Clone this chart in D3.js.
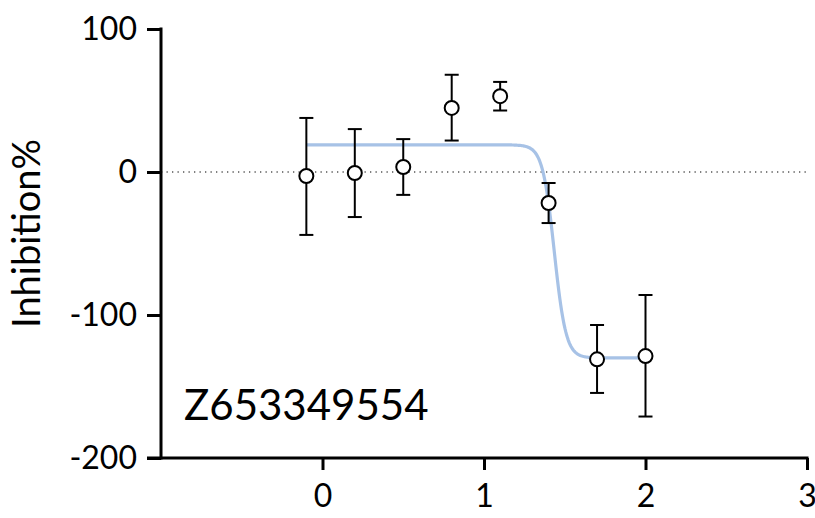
<!DOCTYPE html>
<html>
<head>
<meta charset="utf-8">
<script src="https://cdn.jsdelivr.net/npm/d3@7"></script>
<style>
  body { margin: 0; background: #fff; }
  text { font-family: Lato, "Noto Sans", sans-serif; fill: #000; }
</style>
</head>
<body>
<div id="chart"></div>
<script>
// log concentration, mean inhibition and error bar ends
const logConc = [-0.1, 0.2, 0.5, 0.8, 1.1, 1.4, 1.7, 2.0];
const inhibition = [-2.8, -0.7, 3.5, 44.8, 53, -21.7, -131, -128.7];
const errUpper = [37.8, 30, 23, 68, 63, -7.7, -107, -86];
const errLower = [-44, -31.5, -16, 22, 43, -35.7, -154.5, -171];

const xTicks = [0, 1, 2, 3];
const yTicks = [-200, -100, 0, 100];

// fitted 4-parameter curve
const fitTop = 19;
const fitBottom = -130;
const fitLogIC50 = 1.435;
const fitHill = 12;

const compound = 'Z653349554';

const width = 815, height = 518;
const svg = d3.select('#chart').append('svg')
    .attr('width', width)
    .attr('height', height);

const x = d3.scaleLinear().domain([-1, 3]).range([161, 807]);
const y = d3.scaleLinear().domain([-200, 100]).range([458, 29]);

// zero reference line
svg.append('line')
    .attr('x1', x(-1)).attr('x2', x(3))
    .attr('y1', y(0)).attr('y2', y(0))
    .attr('stroke', '#555')
    .attr('stroke-width', 1.3)
    .attr('stroke-dasharray', '1.3,4.2');

// fitted curve
function fitted(v){
    return fitBottom + (fitTop - fitBottom) / (1 + Math.pow(10, (v - fitLogIC50) * fitHill));
}
const curveX = d3.range(0, 401).map(i => -0.1 + i * 2.1 / 400);
svg.append('path')
    .datum(curveX)
    .attr('fill', 'none')
    .attr('stroke', '#a7c2e6')
    .attr('stroke-width', 3.2)
    .attr('d', d3.line().x(d => x(d)).y(d => y(fitted(d))));

// error bars
const pts = logConc.map((c, i) => ({c: c, v: inhibition[i], hi: errUpper[i], lo: errLower[i]}));
const bars = svg.append('g').attr('stroke', '#000').attr('stroke-width', 2);
pts.forEach(function(d){
    bars.append('line').attr('x1', x(d.c)).attr('x2', x(d.c)).attr('y1', y(d.hi)).attr('y2', y(d.lo));
    bars.append('line').attr('x1', x(d.c) - 7).attr('x2', x(d.c) + 7).attr('y1', y(d.hi)).attr('y2', y(d.hi));
    bars.append('line').attr('x1', x(d.c) - 7).attr('x2', x(d.c) + 7).attr('y1', y(d.lo)).attr('y2', y(d.lo));
});

svg.append('g').selectAll('circle')
    .data(pts)
    .enter().append('circle')
    .attr('cx', d => x(d.c))
    .attr('cy', d => y(d.v))
    .attr('r', 7)
    .attr('fill', '#fff')
    .attr('stroke', '#000')
    .attr('stroke-width', 2);

// axes
const yAxis = svg.append('g')
    .attr('transform', `translate(${x(-1)},0)`)
    .call(d3.axisLeft(y).tickValues(yTicks).tickSize(14).tickPadding(10).tickFormat(d => String(d)));
const xAxis = svg.append('g')
    .attr('transform', `translate(0,${y(-200)})`)
    .call(d3.axisBottom(x).tickValues(xTicks).tickSize(12).tickPadding(14).tickFormat(d => String(d)));

[yAxis, xAxis].forEach(function(a){
    a.select('.domain').remove();
    a.selectAll('.tick line').attr('stroke-width', 3);
    a.selectAll('.tick text').attr('font-size', 32).attr('font-family', 'Lato, sans-serif');
});
svg.append('line')
    .attr('x1', x(-1)).attr('x2', x(-1)).attr('y1', y(100) - 1.5).attr('y2', y(-200) + 1.5)
    .attr('stroke', '#000').attr('stroke-width', 3);
svg.append('line')
    .attr('x1', x(-1) - 14).attr('x2', x(3) + 1.5).attr('y1', y(-200)).attr('y2', y(-200))
    .attr('stroke', '#000').attr('stroke-width', 3);

svg.append('text')
    .attr('transform', `translate(40,${y(-43)}) rotate(-90)`)
    .attr('text-anchor', 'middle')
    .attr('font-size', 38)
    .text('Inhibition%');

svg.append('text')
    .attr('x', 184)
    .attr('y', 420)
    .attr('font-size', 42)
    .text(compound);
</script>
</body>
</html>
